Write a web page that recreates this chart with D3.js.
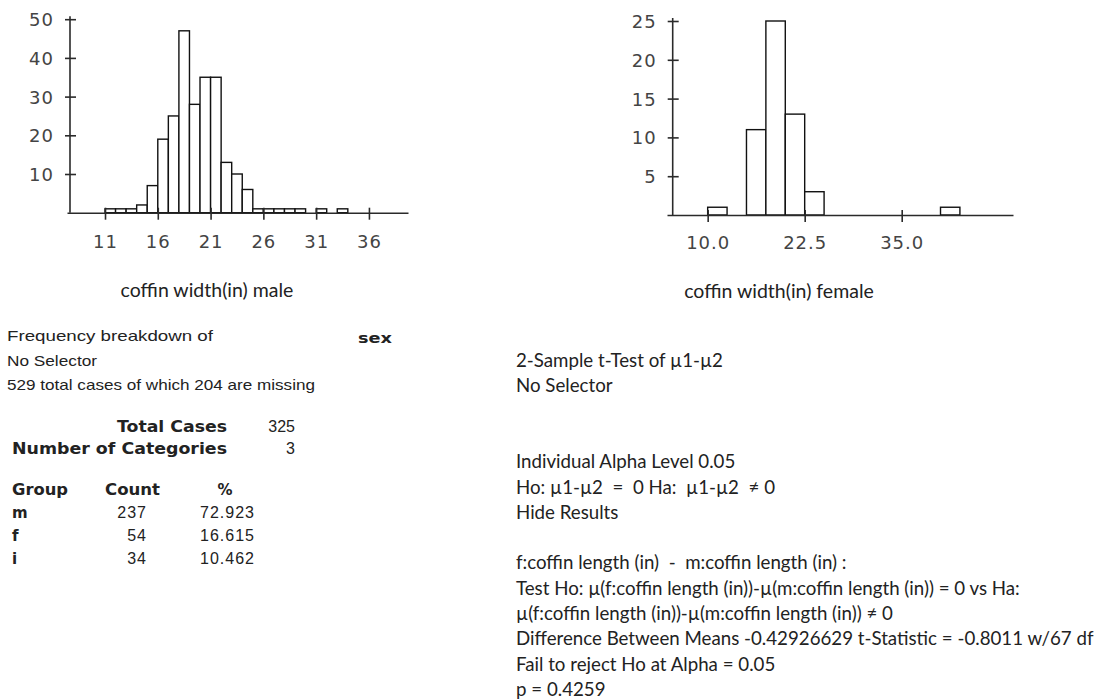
<!DOCTYPE html>
<html>
<head>
<meta charset="utf-8">
<script src="https://cdn.jsdelivr.net/npm/d3@7"></script>
<style>
  html, body { margin: 0; padding: 0; background: #fff; }
  svg { display: block; }
  text { white-space: pre; }
</style>
</head>
<body>
<svg id="chart" width="1104" height="700" xml:space="preserve"></svg>
<script>
// ---------- data ----------
const maleBinStarts = [11,12,13,14,15,16,17,18,19,20,21,22,23,24,25,26,27,28,29,30,31,32,33];
const maleCounts    = [ 1, 1, 1, 2, 7,19,25,47,28,35,35,13,10, 6, 1, 1, 1, 1, 1, 0, 1, 0, 1];
const maleBinWidth = 1;
const maleXTicks = [11,16,21,26,31,36];
const maleYTicks = [10,20,30,40,50];

const femaleBinStarts = [10,12.5,15,17.5,20,22.5,25,27.5,30,32.5,35,37.5,40];
const femaleCounts    = [ 1,   0,11,  25,13,   3, 0,   0, 0,   0, 0,   0, 1];
const femaleBinWidth = 2.5;
const femaleXTicks = [10,22.5,35];
const femaleYTicks = [5,10,15,20,25];

const titles = ["coffin width(in) male", "coffin width(in) female"];

const freqGroups = ["m","f","i"];
const freqCounts = [237,54,34];
const freqPercents = ["72.923","16.615","10.462"];

const ttestLines = [
  "2-Sample t-Test of µ1-µ2",
  "No Selector",
  "",
  "",
  "Individual Alpha Level 0.05",
  "Ho: µ1-µ2  =  0 Ha:  µ1-µ2  ≠ 0",
  "Hide Results",
  "",
  "f:coffin length (in)  -  m:coffin length (in) :",
  "Test Ho: µ(f:coffin length (in))-µ(m:coffin length (in)) = 0 vs Ha:",
  "µ(f:coffin length (in))-µ(m:coffin length (in)) ≠ 0",
  "Difference Between Means -0.42926629 t-Statistic = -0.8011 w/67 df",
  "Fail to reject Ho at Alpha = 0.05",
  "p = 0.4259"
];

// ---------- drawing ----------
const svg = d3.select("#chart");
const axisColor = "#2a2a2a";
const labelFont = "'DejaVu Sans', Verdana, sans-serif";
const bodyFont = "Lato, 'Open Sans', sans-serif";

function histogram(opts) {
  const g = svg.append("g");
  const x = d3.scaleLinear().domain(opts.xDomain).range(opts.xRange);
  const y = d3.scaleLinear().domain([0, opts.yMax]).range(opts.yRange);
  const yAxisX = opts.yAxisX;

  // bars
  const bins = opts.starts.map((s, i) => ({ x0: s, x1: s + opts.binWidth, n: opts.counts[i] }))
    .filter(d => d.n > 0);
  g.selectAll("rect.bar").data(bins).join("rect")
    .attr("class", "bar")
    .attr("x", d => x(d.x0))
    .attr("y", d => y(d.n))
    .attr("width", d => x(d.x1) - x(d.x0))
    .attr("height", d => y(0) - y(d.n))
    .attr("fill", "#fff")
    .attr("stroke", "#111")
    .attr("stroke-width", 1.4);

  // x axis
  const xAxis = d3.axisBottom(x).tickValues(opts.xTicks).tickFormat(opts.xFormat).tickSize(0).tickPadding(0);
  const gx = g.append("g").attr("transform", `translate(0,${y(0)})`).call(xAxis);
  gx.select(".domain").attr("stroke", axisColor).attr("stroke-width", 1.6);
  gx.selectAll(".tick line").attr("y1", -5).attr("y2", 7).attr("stroke", axisColor).attr("stroke-width", 1.6);
  gx.selectAll(".tick text")
    .attr("y", opts.xLabelDy).attr("dy", 0)
    .attr("font-family", labelFont).attr("font-size", 18).attr("fill", "#444")
    .attr("letter-spacing", 1);

  // y axis
  const yAxis = d3.axisLeft(y).tickValues(opts.yTicks).tickSize(0).tickPadding(0);
  const gy = g.append("g").attr("transform", `translate(${yAxisX},0)`).call(yAxis);
  gy.select(".domain").remove();
  gy.append("line").attr("x1", 0).attr("x2", 0)
    .attr("y1", y(0)).attr("y2", y(opts.yMax) - 3)
    .attr("stroke", axisColor).attr("stroke-width", 1.6);
  gy.selectAll(".tick line").attr("x1", -5).attr("x2", 6).attr("stroke", axisColor).attr("stroke-width", 1.6);
  gy.selectAll(".tick text")
    .attr("x", -16).attr("dy", "0.36em")
    .attr("font-family", labelFont).attr("font-size", 18).attr("fill", "#444")
    .attr("letter-spacing", 1);

  // title
  g.append("text").text(opts.title)
    .attr("x", opts.titleX).attr("y", opts.titleY)
    .attr("text-anchor", "middle")
    .attr("font-family", bodyFont).attr("font-size", 19.5).attr("fill", "#222");
  g.selectAll(".domain").attr("fill", "none");
}

histogram({
  starts: maleBinStarts, counts: maleCounts, binWidth: maleBinWidth,
  xDomain: [7.4, 39.7], xRange: [67, 408],
  yMax: 50, yRange: [212.7, 19.2], yAxisX: 70,
  xTicks: maleXTicks, xFormat: d3.format("d"), yTicks: maleYTicks,
  xLabelDy: 35, title: titles[0], titleX: 207, titleY: 297
});

histogram({
  starts: femaleBinStarts, counts: femaleCounts, binWidth: femaleBinWidth,
  xDomain: [4.76, 49.34], xRange: [667, 1013],
  yMax: 25, yRange: [215, 21], yAxisX: 672.7,
  xTicks: femaleXTicks, xFormat: d3.format(".1f"), yTicks: femaleYTicks,
  xLabelDy: 34, title: titles[1], titleX: 779, titleY: 298
});

// ---------- left frequency block ----------
const macFont = "'Liberation Sans', Arial, sans-serif";
const boldFont = "'DejaVu Sans', Verdana, sans-serif";
const left = svg.append("g").attr("fill", "#222");

function t(parent, str, x, y, o = {}) {
  const el = parent.append("text").text(str).attr("x", x).attr("y", y)
    .attr("font-family", o.font || macFont).attr("font-size", o.size || 15)
    .attr("font-weight", o.weight || "normal")
    .attr("text-anchor", o.anchor || "start");
  if (o.len) el.attr("textLength", o.len).attr("lengthAdjust", "spacingAndGlyphs");
  return el;
}

t(left, "Frequency breakdown of", 7, 341, { len: 206 });
t(left, "sex", 358, 343, { font: boldFont, weight: "bold", size: 14, len: 34 });
t(left, "No Selector", 7, 366, { len: 90 });
t(left, "529 total cases of which 204 are missing", 7, 390, { len: 308 });

t(left, "Total Cases", 117, 432, { font: boldFont, weight: "bold", size: 15, len: 110 });
t(left, "325", 295, 432, { anchor: "end", size: 16 });
t(left, "Number of Categories", 12, 454, { font: boldFont, weight: "bold", size: 15, len: 215 });
t(left, "3", 295, 454, { anchor: "end", size: 16 });

t(left, "Group", 12, 495, { font: boldFont, weight: "bold", size: 15, len: 56 });
t(left, "Count", 105, 495, { font: boldFont, weight: "bold", size: 15, len: 55 });
t(left, "%", 225, 495, { font: boldFont, weight: "bold", size: 15, anchor: "middle" });

const rowY = d3.scaleLinear().domain([0, 1]).range([518, 541]);
freqGroups.forEach((grp, i) => {
  t(left, grp, 12, rowY(i), { font: boldFont, weight: "bold", size: 15 });
  t(left, String(freqCounts[i]), 147, rowY(i), { anchor: "end", size: 16 }).attr("letter-spacing", 1);
  t(left, freqPercents[i], 255, rowY(i), { anchor: "end", size: 16 }).attr("letter-spacing", 1);
});

// ---------- right t-test block ----------
const right = svg.append("g").attr("fill", "#222");
const lineY = d3.scaleLinear().domain([0, 1]).range([367, 392.3]);
ttestLines.forEach((line, i) => {
  if (!line) return;
  t(right, line, 516, lineY(i), { font: bodyFont, size: 18.7 });
});
</script>
</body>
</html>
